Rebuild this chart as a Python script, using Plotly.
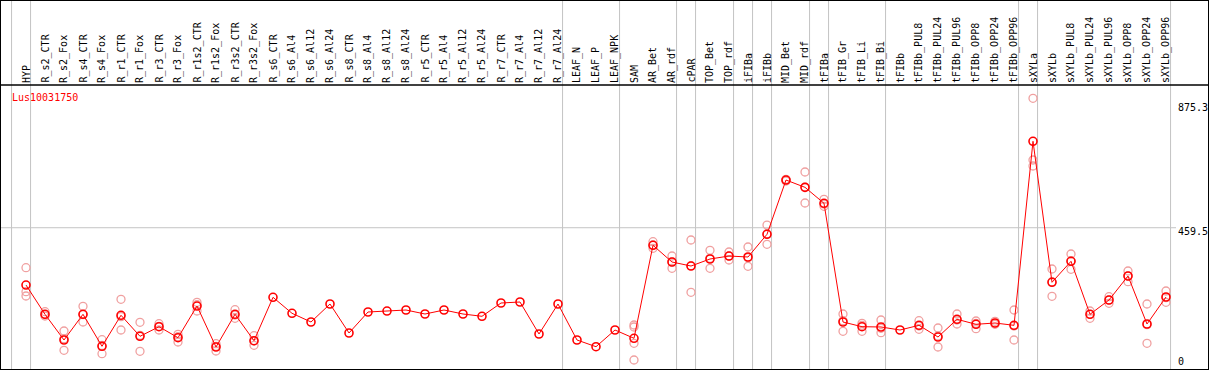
import plotly.graph_objects as go

categories = ["HYP", "R_s2_CTR", "R_s2_Fox", "R_s4_CTR", "R_s4_Fox", "R_r1_CTR", "R_r1_Fox",
              "R_r3_CTR", "R_r3_Fox", "R_r1s2_CTR", "R_r1s2_Fox", "R_r3s2_CTR", "R_r3s2_Fox",
              "R_s6_CTR", "R_s6_Al4", "R_s6_Al12", "R_s6_Al24", "R_s8_CTR", "R_s8_Al4",
              "R_s8_Al12", "R_s8_Al24", "R_r5_CTR", "R_r5_Al4", "R_r5_Al12", "R_r5_Al24",
              "R_r7_CTR", "R_r7_Al4", "R_r7_Al12", "R_r7_Al24", "LEAF_N", "LEAF_P", "LEAF_NPK",
              "SAM", "AR_Bet", "AR_rdf", "cPAR", "TOP_Bet", "TOP_rdf", "iFIBa", "iFIBb",
              "MID_Bet", "MID_rdf", "tFIBa", "tFIB_Gr", "tFIB_Li", "tFIB_Bi", "tFIBb",
              "tFIBb_PUL8", "tFIBb_PUL24", "tFIBb_PUL96", "tFIBb_OPP8", "tFIBb_OPP24",
              "tFIBb_OPP96", "sXYLa", "sXYLb", "sXYLb_PUL8", "sXYLb_PUL24", "sXYLb_PUL96",
              "sXYLb_OPP8", "sXYLb_OPP24", "sXYLb_OPP96"]

mean_values = [268.0, 170.1, 84.2, 170.1, 63.2, 166.8, 96.6, 128.7, 91.9, 197.8, 60.8, 170.1, 81.9,
               226.9, 173.5, 144.4, 204.5, 107.6, 177.8, 181.1, 184.5, 171.1, 184.5, 171.1, 163.4,
               207.9, 211.2, 104.3, 204.5, 84.2, 61.8, 117.6,
               89.9, 400.7, 344.9, 331.5, 354.9, 364.9, 361.6, 437.5,
               618.9, 594.5, 541.1, 144.4, 128.7, 127.7, 117.6,
               133.3, 94.2, 153.4, 136.7, 141.0, 133.3,
               748.3, 277.1, 347.2, 170.1, 217.9, 298.1, 137.7, 227.9]

replicates = {
    "HYP": [325.8, 245.6, 231.3],
    "R_s2_CTR": [178.8, 170.1, 164.4],
    "R_s2_Fox": [114.3, 49.8, 88.6],
    "R_s4_CTR": [196.8, 144.4, 168.8],
    "R_s4_Fox": [85.2, 38.4, 65.8],
    "R_r1_CTR": [220.2, 117.6, 162.1],
    "R_r1_Fox": [143.4, 46.5, 99.9],
    "R_r3_CTR": [138.7, 117.6, 130.0],
    "R_r3_Fox": [103.3, 77.5, 95.2],
    "R_r1s2_CTR": [210.2, 181.1, 202.2],
    "R_r1s2_Fox": [71.9, 47.5, 63.2],
    "R_r3s2_CTR": [185.5, 156.7, 167.8],
    "R_r3s2_Fox": [98.6, 66.5, 80.9],
    "SAM": [134.3, 127.7, 73.2, 17.4],
    "AR_Bet": [412.7, 401.7, 390.7],
    "AR_rdf": [364.9, 323.8, 344.9],
    "cPAR": [418.4, 243.6, 332.5],
    "TOP_Bet": [384.0, 323.8, 357.3],
    "TOP_rdf": [378.3, 351.6, 364.9],
    "iFIBa": [395.0, 330.5, 359.3],
    "iFIBb": [468.5, 404.0, 439.5],
    "MID_Bet": [621.3, 618.9, 615.6],
    "MID_rdf": [645.7, 542.1, 595.5],
    "tFIBa": [554.4, 531.0, 538.7],
    "tFIB_Gr": [171.1, 113.3, 148.7],
    "tFIB_Li": [140.0, 113.3, 133.3],
    "tFIB_Bi": [151.1, 108.6, 123.3],
    "tFIBb_PUL8": [148.7, 120.0, 131.0],
    "tFIBb_PUL24": [124.3, 60.8, 97.6],
    "tFIBb_PUL96": [171.1, 137.7, 151.1],
    "tFIBb_OPP8": [147.7, 122.0, 140.0],
    "tFIBb_OPP24": [146.7, 136.7, 140.0],
    "tFIBb_OPP96": [184.5, 84.2, 131.0],
    "sXYLa": [892.0, 685.8, 665.7],
    "sXYLb": [321.5, 230.3, 279.1],
    "sXYLb_PUL8": [371.6, 320.5, 349.2],
    "sXYLb_PUL24": [181.1, 156.7, 170.1],
    "sXYLb_PUL96": [228.9, 206.9, 217.9],
    "sXYLb_OPP8": [314.8, 279.1, 298.1],
    "sXYLb_OPP24": [204.5, 73.2, 135.4],
    "sXYLb_OPP96": [248.0, 210.2, 225.6],
}

# last category index of each group (vertical separators), -1 = left edge
group_ends = [-1, 0, 28, 31, 34, 35, 37, 38, 39, 41, 42, 45, 52, 53, 60]
y_tick_values = [875.3, 459.5, 0]
y_tick_labels = ["875.3", "459.5", "0"]
gene_name = "Lus10031750"

W, H = 1209, 370
FONT = "DejaVu Sans Mono"
idx = {c: i for i, c in enumerate(categories)}

rep_x, rep_y = [], []
for c, vals in replicates.items():
    for v in vals:
        rep_x.append(idx[c])
        rep_y.append(v)

fig = go.Figure()
fig.add_trace(go.Scatter(
    x=rep_x, y=rep_y, mode="markers",
    marker=dict(symbol="circle-open", size=8, color="#f0a0a0", line=dict(width=1.3)),
    hoverinfo="skip", showlegend=False))
fig.add_trace(go.Scatter(
    x=list(range(len(categories))), y=mean_values, mode="lines+markers",
    line=dict(color="#ff0000", width=1),
    marker=dict(symbol="circle-open", size=8, color="#ff0000", line=dict(width=1.6)),
    showlegend=False))

shapes = []
for g in group_ends:
    shapes.append(dict(type="line", xref="x", yref="paper", x0=g + 0.24, x1=g + 0.24, y0=0, y1=1,
                       line=dict(color="#c4c4c4", width=1), layer="below"))
shapes.append(dict(type="line", xref="paper", yref="y", x0=0, x1=1176 / W, y0=459.5, y1=459.5,
                   line=dict(color="#c4c4c4", width=1), layer="below"))
shapes.append(dict(type="line", xref="paper", yref="paper", x0=0, x1=1, y0=1 - 85 / H, y1=1 - 85 / H,
                   line=dict(color="black", width=1.5)))
shapes.append(dict(type="rect", xref="paper", yref="paper", x0=0, x1=1, y0=0, y1=1,
                   line=dict(color="black", width=2)))

annotations = []
for i, c in enumerate(categories):
    annotations.append(dict(x=i, y=1 - 84 / H, xref="x", yref="paper", text=c, textangle=-90,
                            showarrow=False, xanchor="center", yanchor="bottom",
                            font=dict(family=FONT, size=10, color="black"), borderpad=0))
annotations.append(dict(x=10 / W, y=1 - 97.7 / H, xref="paper", yref="paper", text=gene_name,
                        showarrow=False, xanchor="left", yanchor="middle",
                        font=dict(family=FONT, size=10, color="#ff0000")))
for v, t in zip(y_tick_values, y_tick_labels):
    annotations.append(dict(x=1176 / W, y=v, xref="paper", yref="y", text=t, showarrow=False,
                            xanchor="left", yanchor="middle", yshift=(3.5 if v == 0 else -4),
                            font=dict(family=FONT, size=10, color="black")))

x0 = -26 / 19
fig.update_layout(
    width=W, height=H, margin=dict(l=0, r=0, t=0, b=0),
    paper_bgcolor="white", plot_bgcolor="white",
    xaxis=dict(range=[x0, x0 + W / 19], visible=False, fixedrange=True),
    yaxis=dict(range=[-16.04, -16.04 + H / 0.2992], visible=False, fixedrange=True),
    shapes=shapes, annotations=annotations, showlegend=False,
)
fig.write_html("out.html", config={"displayModeBar": False},
               post_script="document.body.style.margin='0';document.body.style.overflow='hidden';")
